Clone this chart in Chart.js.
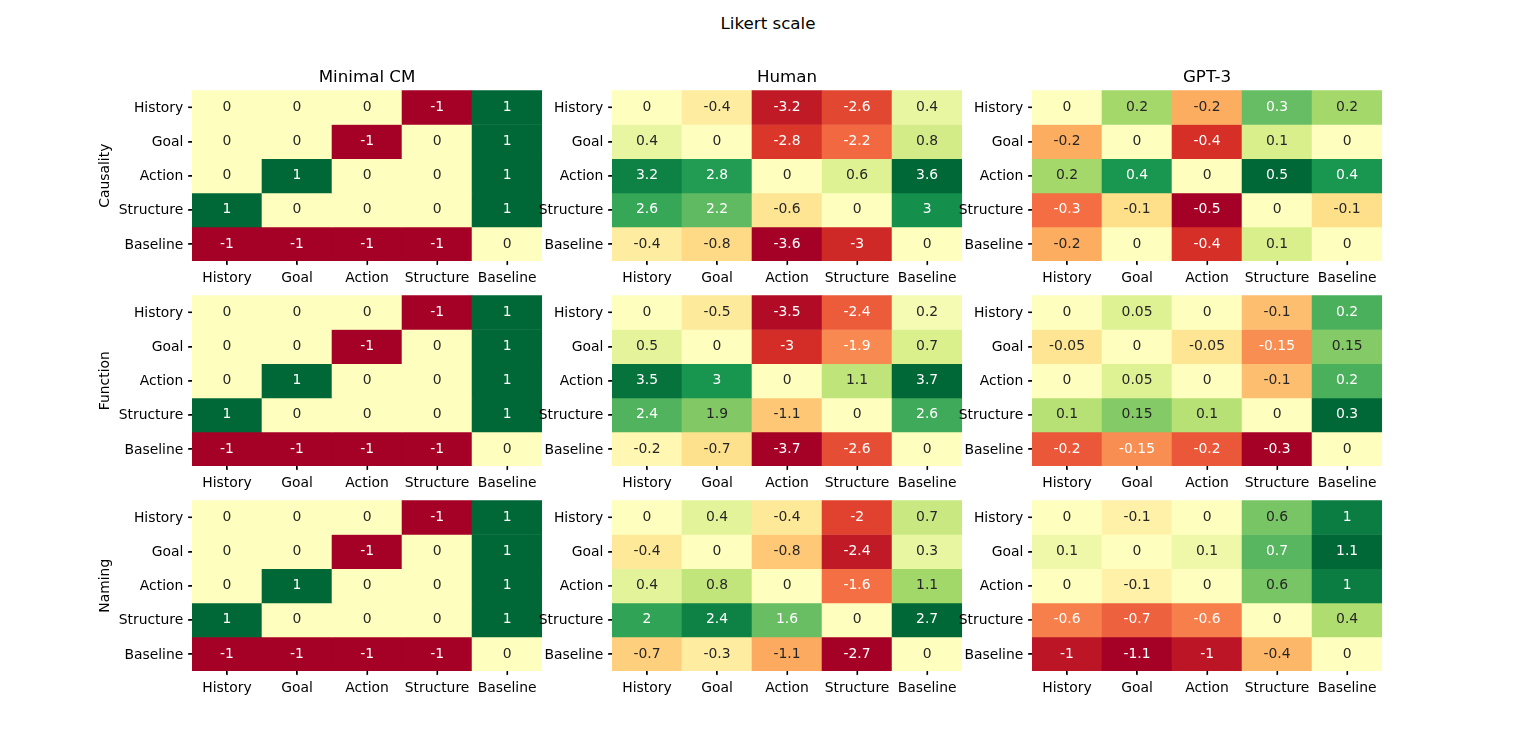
<!DOCTYPE html>
<html>
<head>
<meta charset="utf-8">
<script src="https://cdn.jsdelivr.net/npm/chart.js@4"></script>
<style>
  body { margin: 0; background: #fff; }
  #fig { position: relative; width: 1536px; height: 754px; overflow: hidden; font-family: "DejaVu Sans", sans-serif; }
  #suptitle { position: absolute; left: 0; width: 1536px; top: 13px; line-height: 20px; text-align: center; font-size: 16.7px; color: #000; }
  canvas { position: absolute; }
</style>
</head>
<body>
<div id="fig">
  <div id="suptitle">Likert scale</div>
</div>
<script>

    // rows / columns of every heatmap
    const rowLabels = ["History", "Goal", "Action", "Structure", "Baseline"];
    const colLabels = ["History", "Goal", "Action", "Structure", "Baseline"];
    const tasks = ["Causality", "Function", "Naming"];
    const models = ["Minimal CM", "Human", "GPT-3"];

    const minimalCM = [
        [0, 0, 0, -1, 1],
        [0, 0, -1, 0, 1],
        [0, 1, 0, 0, 1],
        [1, 0, 0, 0, 1],
        [-1, -1, -1, -1, 0]
    ];

    const humanCausality = [
        [0, -0.4, -3.2, -2.6, 0.4],
        [0.4, 0, -2.8, -2.2, 0.8],
        [3.2, 2.8, 0, 0.6, 3.6],
        [2.6, 2.2, -0.6, 0, 3],
        [-0.4, -0.8, -3.6, -3, 0]
    ];

    const gpt3Causality = [
        [0, 0.2, -0.2, 0.3, 0.2],
        [-0.2, 0, -0.4, 0.1, 0],
        [0.2, 0.4, 0, 0.5, 0.4],
        [-0.3, -0.1, -0.5, 0, -0.1],
        [-0.2, 0, -0.4, 0.1, 0]
    ];

    const humanFunction = [
        [0, -0.5, -3.5, -2.4, 0.2],
        [0.5, 0, -3, -1.9, 0.7],
        [3.5, 3, 0, 1.1, 3.7],
        [2.4, 1.9, -1.1, 0, 2.6],
        [-0.2, -0.7, -3.7, -2.6, 0]
    ];

    const gpt3Function = [
        [0, 0.05, 0, -0.1, 0.2],
        [-0.05, 0, -0.05, -0.15, 0.15],
        [0, 0.05, 0, -0.1, 0.2],
        [0.1, 0.15, 0.1, 0, 0.3],
        [-0.2, -0.15, -0.2, -0.3, 0]
    ];

    const humanNaming = [
        [0, 0.4, -0.4, -2, 0.7],
        [-0.4, 0, -0.8, -2.4, 0.3],
        [0.4, 0.8, 0, -1.6, 1.1],
        [2, 2.4, 1.6, 0, 2.7],
        [-0.7, -0.3, -1.1, -2.7, 0]
    ];

    const gpt3Naming = [
        [0, -0.1, 0, 0.6, 1],
        [0.1, 0, 0.1, 0.7, 1.1],
        [0, -0.1, 0, 0.6, 1],
        [-0.6, -0.7, -0.6, 0, 0.4],
        [-1, -1.1, -1, -0.4, 0]
    ];

    const grid = [
        [minimalCM, humanCausality, gpt3Causality],
        [minimalCM, humanFunction, gpt3Function],
        [minimalCM, humanNaming, gpt3Naming]
    ];

    // RdYlGn colormap
    const RdYlGn = ["#a50026", "#d73027", "#f46d43", "#fdae61", "#fee08b", "#ffffbf",
                    "#d9ef8b", "#a6d96a", "#66bd63", "#1a9850", "#006837"];
    const stops = RdYlGn.map(h => [1, 3, 5].map(i => parseInt(h.substr(i, 2), 16)));

    function cmap(t) {
        t = Math.max(0, Math.min(1, t));
        const u = Math.min(255, Math.floor(t * 256)) / 255;
        const s = u * 10;
        const i = Math.min(9, Math.floor(s));
        const f = s - i;
        return stops[i].map((v, k) => v + (stops[i + 1][k] - v) * f);
    }

    function luminance(rgb) {
        const c = rgb.map(v => {
            v = v / 255;
            return v <= 0.03928 ? v / 12.92 : Math.pow((v + 0.055) / 1.055, 2.4);
        });
        return 0.2126 * c[0] + 0.7152 * c[1] + 0.0722 * c[2];
    }

    const FONT = "DejaVu Sans";

    // writes the value in each cell, plus the small tick marks
    const cellText = {
        id: "cellText",
        afterDatasetsDraw(chart) {
            const ctx = chart.ctx;
            ctx.save();
            ctx.font = "13.9px '" + FONT + "'";
            ctx.textAlign = "center";
            ctx.textBaseline = "middle";
            chart.data.datasets.forEach((ds, i) => {
                chart.getDatasetMeta(i).data.forEach((bar, j) => {
                    const lum = luminance(ds.rgb[j]);
                    ctx.fillStyle = lum > 0.408 ? "#262626" : "#ffffff";
                    ctx.fillText(String(ds.values[j]), bar.x, (bar.y + bar.base) / 2);
                });
            });

            // tick marks at cell centres
            const area = chart.chartArea;
            const xs = chart.scales.x, ys = chart.scales.y;
            ctx.fillStyle = "#000";
            colLabels.forEach((_, i) => {
                const px = xs.getPixelForValue(i);
                ctx.fillRect(Math.round(px) - 0.5, area.bottom, 1.2, 4);
            });
            rowLabels.forEach((_, i) => {
                const py = ys.getPixelForValue(i + 0.5);
                ctx.fillRect(area.left - 4, Math.round(py) - 0.5, 4, 1.2);
            });
            ctx.restore();
        }
    };

    // figure geometry (heatmap area of each subplot)
    const lefts = [192, 612.1, 1032.2];
    const tops = [90.5, 295.4, 500.3];
    const areaW = 350.1, areaH = 170.76;
    const yAxisW = 110, xAxisH = 36, topSpace = 30.34;
    const canvasW = 470, canvasH = 250;

    const fig = document.getElementById("fig");

    grid.forEach((rowMats, r) => {
        rowMats.forEach((m, c) => {
            const flat = m.flat();
            const vmin = Math.min(...flat), vmax = Math.max(...flat);

            const canvas = document.createElement("canvas");
            canvas.width = canvasW;
            canvas.height = canvasH;
            canvas.style.width = canvasW + "px";
            canvas.style.height = canvasH + "px";
            canvas.style.left = (lefts[c] - yAxisW) + "px";
            canvas.style.top = (tops[r] - topSpace) + "px";
            fig.appendChild(canvas);

            const datasets = rowLabels.map((name, i) => {
                const rgb = m[i].map(v => cmap((v - vmin) / (vmax - vmin)));
                return {
                    label: name,
                    data: m[i].map(() => [i, i + 1]),
                    values: m[i],
                    rgb: rgb,
                    backgroundColor: rgb.map(p => "rgb(" + p.map(Math.round).join(",") + ")"),
                    borderWidth: 0,
                    barPercentage: 1,
                    categoryPercentage: 1,
                    grouped: false
                };
            });

            new Chart(canvas, {
                type: "bar",
                data: { labels: colLabels, datasets: datasets },
                plugins: [cellText],
                options: {
                    responsive: false,
                    animation: false,
                    events: [],
                    layout: {
                        padding: {
                            top: r === 0 ? 0 : topSpace,
                            left: 0,
                            right: canvasW - yAxisW - areaW,
                            bottom: canvasH - topSpace - areaH - xAxisH
                        }
                    },
                    scales: {
                        x: {
                            type: "category",
                            afterFit: s => { s.height = xAxisH; },
                            grid: { offset: false, drawOnChartArea: false, tickLength: 3.5, tickColor: "#000", lineWidth: 1.1 },
                            border: { display: false },
                            ticks: { color: "#000", padding: 5, maxRotation: 0, autoSkip: false,
                                     font: { family: FONT, size: 13.9 } }
                        },
                        y: {
                            type: "linear",
                            min: 0,
                            max: rowLabels.length,
                            reverse: true,
                            afterFit: s => { s.width = yAxisW; },
                            afterBuildTicks: s => { s.ticks = rowLabels.map((_, i) => ({ value: i + 0.5 })); },
                            grid: { drawOnChartArea: false, tickLength: 3.5, tickColor: "#000", lineWidth: 1.1 },
                            border: { display: false },
                            ticks: { color: "#000", padding: 5.2, labelOffset: 1, autoSkip: false,
                                     font: { family: FONT, size: 13.9 },
                                     callback: v => rowLabels[Math.floor(v)] },
                            title: {
                                display: c === 0,
                                text: tasks[r],
                                color: "#000",
                                font: { family: FONT, size: 13.9 },
                                padding: { top: 14.7, bottom: 0 }
                            }
                        }
                    },
                    plugins: {
                        legend: { display: false },
                        tooltip: { enabled: false },
                        title: {
                            display: r === 0,
                            text: models[c],
                            fullSize: false,
                            color: "#000",
                            font: { family: FONT, size: 16.7, weight: "normal" },
                            padding: { top: 8, bottom: 2.3 }
                        }
                    }
                }
            });
        });
    });

</script>
</body>
</html>
